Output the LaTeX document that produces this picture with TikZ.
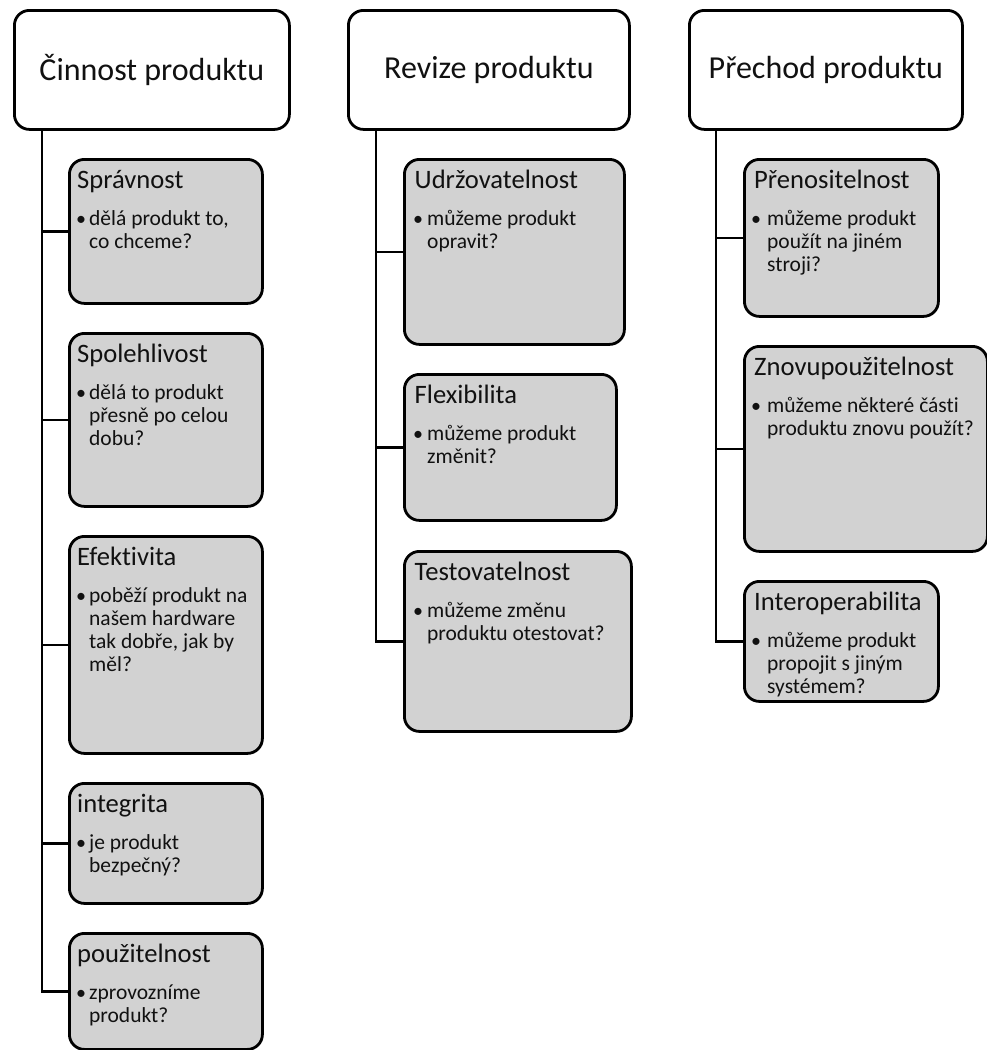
\documentclass[tikz,border=0pt]{standalone}
\usepackage{fontspec}
\setmainfont{Carlito}[Ligatures=CommonOff]
\definecolor{boxgray}{RGB}{210,210,210}
\definecolor{ink}{RGB}{17,17,17}
\tikzset{
  topbox/.style={draw=black, line width=2.8pt, rounded corners=15pt, fill=white,
    inner sep=0pt, anchor=north west, text=ink, font=\fontsize{32}{38}\selectfont},
  childbox/.style={draw=black, line width=2.8pt, rounded corners=15pt, fill=boxgray,
    inner sep=0pt, anchor=north west},
  ctitle/.style={font=\fontsize{26.6}{31}\selectfont, inner sep=0pt, anchor=base west, text=ink},
  cbul/.style={font=\fontsize{21.5}{23}\selectfont, inner sep=0pt, anchor=base west, text=ink},
  cdot/.style={font=\fontsize{20}{23}\selectfont, inner sep=0pt, anchor=base, text=ink},
  conn/.style={draw=black, line width=2.8pt},
}
\def\titx{9}\def\bulx{13}\def\txtx{21}
% name, x, y, width, height, title, lines
\newcommand\qbox[7]{%
  \node[childbox, minimum width=#4pt, minimum height=#5pt] (#1) at (#2,#3) {};
  \node[ctitle] (#1t) at ([shift={(\titx pt,-30pt)}]#1.north west) {#6};
  \node[cdot] (#1d) at ([shift={(\bulx pt,-67pt)}]#1.north west) {•};
  \node[cbul] (#1b) at ([shift={(\txtx pt,-67pt)}]#1.north west)
    {\begin{tabular}[t]{@{}l@{}}#7\end{tabular}};
}
\begin{document}
\begin{tikzpicture}[x=1pt,y=-1pt]
\useasboundingbox (0,0) rectangle (987,1050);
% top boxes
\node[topbox, minimum width=275pt, minimum height=119pt] (A) at (13,9) {Činnost produktu};
\node[topbox, minimum width=281pt, minimum height=119pt] (B) at (347,9) {Revize produktu};
\node[topbox, minimum width=273pt, minimum height=119pt] (C) at (688,9) {Přechod produktu};
\coordinate (Atrunk) at (42,128);
\coordinate (Btrunk) at (376,128);
\coordinate (Ctrunk) at (716,128);
% column 1
\qbox{a1}{68}{158}{193}{144}{Správnost}{dělá produkt to,\\co chceme?}
\qbox{a2}{68}{332}{193}{173}{Spolehlivost}{dělá to produkt\\přesně po celou\\dobu?}
\qbox{a3}{68}{535}{193}{217}{Efektivita}{poběží produkt na\\našem hardware\\tak dobře, jak by\\měl?}
\qbox{a4}{68}{782}{193}{120}{integrita}{je produkt\\bezpečný?}
\qbox{a5}{68}{932}{193}{116}{použitelnost}{zprovozníme\\produkt?}
% column 2
\def\titx{11.5}\def\bulx{15}\def\txtx{24}
\qbox{b1}{403}{158}{220}{185}{Udržovatelnost}{můžeme produkt\\opravit?}
\qbox{b2}{403}{373}{212}{146}{Flexibilita}{můžeme produkt\\změnit?}
\qbox{b3}{403}{550}{227}{180}{Testovatelnost}{můžeme změnu\\produktu otestovat?}
% column 3
\def\titx{11}\def\bulx{13}\def\txtx{24}
\qbox{c1}{743}{158}{194}{157}{Přenositelnost}{můžeme produkt\\použít na jiném\\stroji?}
\qbox{c2}{743}{345}{243}{205}{Znovupoužitelnost}{můžeme některé části\\produktu znovu použít?}
\qbox{c3}{743}{580}{194}{120}{Interoperabilita}{můžeme produkt\\propojit s jiným\\systémem?}
% connectors
\foreach \n in {a1,a2,a3,a4,a5} \draw[conn] (Atrunk) |- (\n.west);
\foreach \n in {b1,b2,b3} \draw[conn] (Btrunk) |- (\n.west);
\foreach \n in {c1,c2,c3} \draw[conn] (Ctrunk) |- (\n.west);
\end{tikzpicture}
\end{document}
